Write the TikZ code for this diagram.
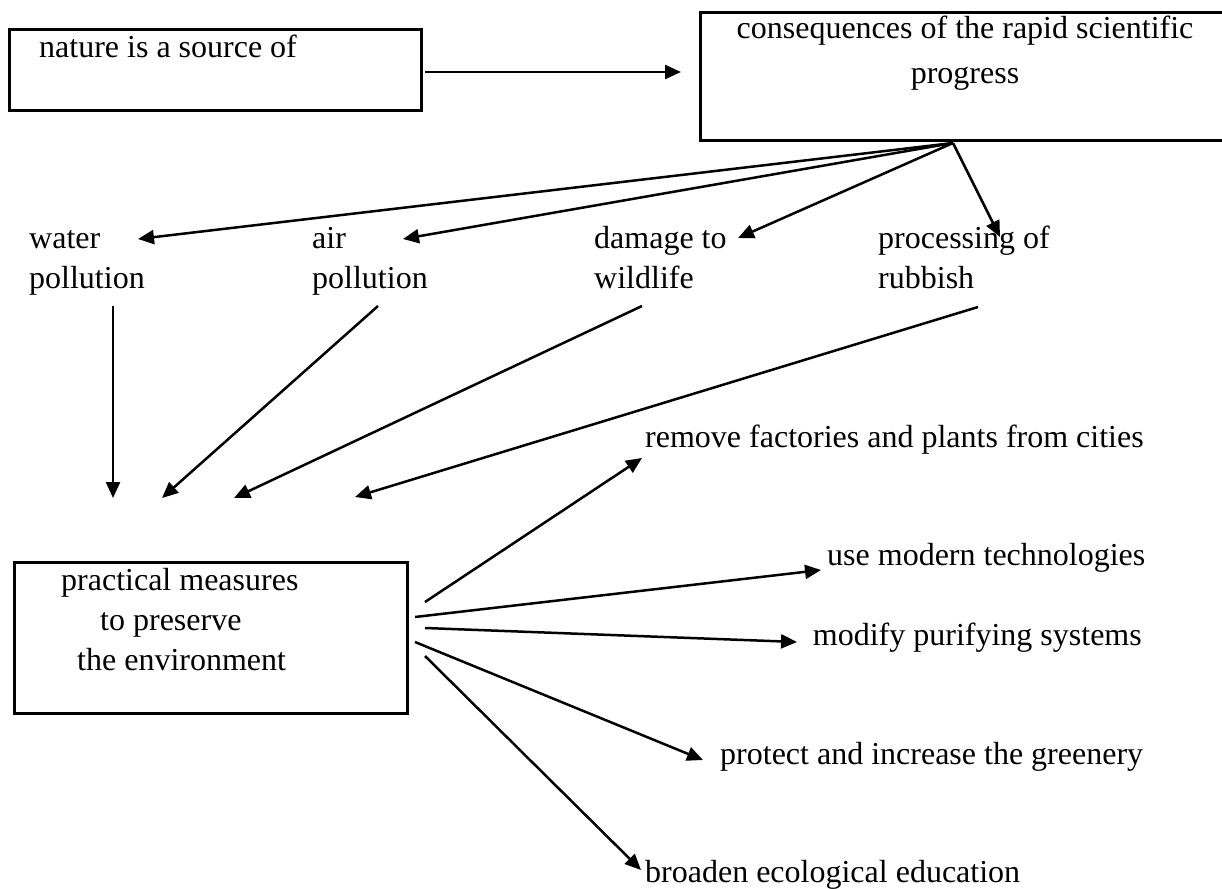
\documentclass[tikz,border=0pt]{standalone}
\usepackage{fontspec}
\setmainfont{Liberation Serif}
\usetikzlibrary{arrows.meta}
\tikzset{
  box/.style={draw, line width=2.6pt, rectangle, inner sep=0pt},
  txt/.style={inner sep=0pt, font=\fontsize{32}{40}\selectfont},
  conn/.style={line width=2.5pt, -{Triangle[length=16pt,width=14pt]}}
}
\begin{document}
\begin{tikzpicture}[x=1pt,y=-1pt]
\useasboundingbox (0,0) rectangle (1222,888);
\fill[white] (0,0) rectangle (1222,888);
\clip (0,0) rectangle (1222,888);

% boxes
\node[box, anchor=north west, minimum width=412pt, minimum height=81pt] (nat) at (8,28) {};
\node[txt, anchor=base west] (natT) at (39,58) {nature is a source of};

\node[box, anchor=north west, minimum width=560pt, minimum height=128pt] (cons) at (699,11) {};
\node[txt, anchor=north, align=center] (consT) at (965,10) {\strut consequences of the rapid scientific\\[5pt]progress};

\node[box, anchor=north west, minimum width=393pt, minimum height=151pt] (meas) at (13,561) {};
\node[txt, anchor=north west, align=left] (measT) at (61,562) {\strut practical measures\\\hspace*{39pt}to preserve\\\hspace*{16pt}the environment};

% middle labels
\node[txt, anchor=north west, align=left] (water) at (29,220) {\strut water\\pollution};
\node[txt, anchor=north west, align=left] (air) at (312,220) {\strut air\\pollution};
\node[txt, anchor=north west, align=left] (damage) at (594,220) {\strut damage to\\wildlife};
\node[txt, anchor=north west, align=left] (rubbish) at (878,220) {\strut processing of\\rubbish};

% right labels
\node[txt, anchor=base west] (remove) at (645,447) {remove factories and plants from cities};
\node[txt, anchor=base west] (modern) at (827,565) {use modern technologies};
\node[txt, anchor=base east] (modify) at (1142,645) {modify purifying systems};
\node[txt, anchor=base west] (protect) at (720,764) {protect and increase the greenery};
\node[txt, anchor=base west] (broaden) at (645,882) {broaden ecological education};

% connector end points
\coordinate (natR) at (425,72);
\coordinate (consL) at (681,72);
\coordinate (apex) at (953,143);
\coordinate (wIn) at (138,239);
\coordinate (aIn) at (403,239);
\coordinate (dIn) at (738,238);
\coordinate (pIn) at (1000,237);
\coordinate (wOut) at (113,306);
\coordinate (aOut) at (378,306);
\coordinate (dOut) at (642,306);
\coordinate (pOut) at (978,307);
\coordinate (wEnd) at (113,498);
\coordinate (aEnd) at (162,498);
\coordinate (dEnd) at (234,498);
\coordinate (pEnd) at (355,497);
\coordinate (s1) at (425,602);
\coordinate (s2) at (415,617);
\coordinate (s3) at (425,628);
\coordinate (s4) at (415,642);
\coordinate (s5) at (425,656);
\coordinate (e1) at (642,458);
\coordinate (e2) at (821,570);
\coordinate (e3) at (797,642);
\coordinate (e4) at (703,760);
\coordinate (e5) at (641,870);

% connectors
\draw[conn] (natR) -- (consL);
\draw[conn] (apex) -- (wIn);
\draw[conn] (apex) -- (aIn);
\draw[conn] (apex) -- (dIn);
\draw[conn] (apex) -- (pIn);
\draw[conn] (wOut) -- (wEnd);
\draw[conn] (aOut) -- (aEnd);
\draw[conn] (dOut) -- (dEnd);
\draw[conn] (pOut) -- (pEnd);
\draw[conn] (s1) -- (e1);
\draw[conn] (s2) -- (e2);
\draw[conn] (s3) -- (e3);
\draw[conn] (s4) -- (e4);
\draw[conn] (s5) -- (e5);
\end{tikzpicture}
\end{document}
